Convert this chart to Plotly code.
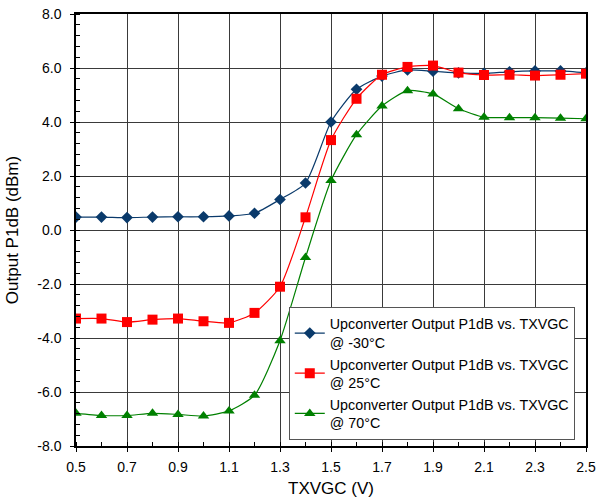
import plotly.graph_objects as go

x_vals = [0.5, 0.6, 0.7, 0.8, 0.9, 1.0, 1.1, 1.2, 1.3, 1.4, 1.5, 1.6, 1.7, 1.8, 1.9, 2.0, 2.1, 2.2, 2.3, 2.4, 2.5]
p1db_m30 = [0.48, 0.48, 0.46, 0.48, 0.49, 0.49, 0.52, 0.62, 1.13, 1.74, 4.0, 5.21, 5.7, 5.93, 5.88, 5.82, 5.8, 5.86, 5.89, 5.89, 5.82]
p1db_25 = [-3.28, -3.28, -3.41, -3.32, -3.28, -3.38, -3.44, -3.07, -2.1, 0.47, 3.33, 4.86, 5.75, 6.04, 6.09, 5.83, 5.74, 5.75, 5.72, 5.75, 5.79]
p1db_70 = [-6.79, -6.87, -6.87, -6.79, -6.83, -6.89, -6.7, -6.12, -4.1, -1.02, 1.83, 3.53, 4.59, 5.16, 5.04, 4.49, 4.18, 4.16, 4.16, 4.14, 4.12]
series_names = [
    "Upconverter Output P1dB vs. TXVGC<br>@ -30°C",
    "Upconverter Output P1dB vs. TXVGC<br>@ 25°C",
    "Upconverter Output P1dB vs. TXVGC<br>@ 70°C",
]
x_ticks = [0.5, 0.7, 0.9, 1.1, 1.3, 1.5, 1.7, 1.9, 2.1, 2.3, 2.5]
y_ticks = [-8, -6, -4, -2, 0, 2, 4, 6, 8]

FONT = "Liberation Sans, Arial"

fig = go.Figure()
styles = [
    (p1db_m30, "#0a3a6b", "diamond", 9),
    (p1db_25, "#ff0000", "square", 10),
    (p1db_70, "#008000", "triangle-up", 10),
]
for (vals, col, sym, sz), name in zip(styles, series_names):
    fig.add_trace(go.Scatter(
        x=x_vals, y=vals, name=name, mode="lines+markers",
        line=dict(color=col, width=1.2, shape="spline", smoothing=0.6),
        marker=dict(symbol=sym, size=sz, color=col),
    ))

axis_common = dict(
    showline=True, linecolor="#000000", linewidth=1.5, mirror=True,
    showgrid=True, gridcolor="#3a3a3a", gridwidth=1,
    zeroline=False, ticks="outside", ticklen=4, tickcolor="#000000",
    tickfont=dict(family=FONT, size=14, color="#000000"),
    automargin=False,
)

fig.update_xaxes(
    range=[0.5, 2.5], tickvals=x_ticks, ticktext=[f"{v:.1f}" for v in x_ticks],
    ticklabelstandoff=3,
    title=dict(text="TXVGC (V)", font=dict(family=FONT, size=17, color="#000000"), standoff=9),
    minor=dict(dtick=0.1, tick0=0.5, ticks="inside", ticklen=4, tickcolor="#000000", showgrid=False),
    **axis_common,
)
fig.update_yaxes(
    range=[-8, 8], tickvals=y_ticks, ticktext=[f"{v:.1f}" for v in y_ticks],
    ticklabelstandoff=6,
    title=dict(text="Output P1dB (dBm)", font=dict(family=FONT, size=17, color="#000000"), standoff=14),
    minor=dict(dtick=0.4, tick0=-8, ticks="inside", ticklen=4, tickcolor="#000000", showgrid=False),
    **axis_common,
)

fig.update_layout(
    width=598, height=502,
    margin=dict(l=76, r=12, t=14, b=56, autoexpand=False),
    paper_bgcolor="white", plot_bgcolor="white",
    font=dict(family=FONT, color="#000000"),
    legend=dict(
        x=0.978, y=0.014, xanchor="right", yanchor="bottom",
        bgcolor="white", bordercolor="#555555", borderwidth=1,
        font=dict(family=FONT, size=14.3, color="#000000"),
        tracegroupgap=0, itemwidth=30,
    ),
)

fig.write_html(
    "out.html",
    config={"displayModeBar": False},
    post_script="document.body.style.margin='0';document.body.style.overflow='hidden';",
)
